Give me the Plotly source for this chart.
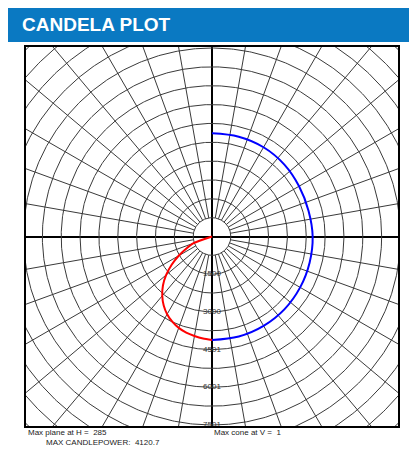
import numpy as np
import plotly.graph_objects as go

# ---- data ----
blue_angles = [0, 15, 30, 45, 60, 75, 90, 105, 120, 135, 150, 165, 180]
blue_cd = [4120, 4118, 4105, 4085, 4050, 4020, 4005, 3975, 4000, 4060, 4100, 4110, 4105]

red_angles = [0, 5, 10, 15, 20, 25, 30, 35, 40, 45, 50, 55, 60, 65, 70, 75, 80, 85, 90]
red_cd = [4120, 4075, 4020, 3960, 3870, 3740, 3570, 3350, 3080, 2760, 2380, 1960, 1530,
          1110, 780, 0, 0, 0, 0]

ring_values = [750 * i for i in range(1, 16)]
spoke_angles = [a for a in range(0, 360, 10) if a % 90 != 0]
label_values = [1500, 3000, 4501, 6001, 7501]
label_texts = ["1500", "3000", "4501", "6001", "7501"]

title_text = "CANDELA PLOT"
info_plane = "Max plane at H =\u00a0\u00a0285"
info_power = "MAX CANDLEPOWER:\u00a0\u00a04120.7"
info_cone = "Max cone at V =\u00a0\u00a01"

# ---- geometry (page body has an 8px margin, so coordinates are shifted by -8) ----
OFF = 8
W, H = 417 - OFF, 450 - OFF
L, R, T, B = 26 - OFF, 398 - OFF, 47 - OFF, 426 - OFF
CD_PER_PX = 7500 / 188.5
xr = (R - L) / 2 * CD_PER_PX
yr = (B - T) / 2 * CD_PER_PX

fig = go.Figure()

# rings
gx, gy = [], []
t = np.linspace(0, 2 * np.pi, 721)
for r in ring_values:
    gx += list(r * np.cos(t)) + [None]
    gy += list(r * np.sin(t)) + [None]
fig.add_trace(go.Scatter(x=gx, y=gy, mode="lines", line=dict(color="#3a3a3a", width=1),
                         hoverinfo="skip", showlegend=False))

# spokes
sx, sy = [], []
r0, r1 = ring_values[0], ring_values[-1] * 1.2
for a in spoke_angles:
    rad = np.deg2rad(a)
    sx += [r0 * np.cos(rad), r1 * np.cos(rad), None]
    sy += [r0 * np.sin(rad), r1 * np.sin(rad), None]
fig.add_trace(go.Scatter(x=sx, y=sy, mode="lines", line=dict(color="#3a3a3a", width=1),
                         hoverinfo="skip", showlegend=False))

# curves (angle measured from nadir)
ba = np.deg2rad(blue_angles)
bc = np.array(blue_cd, dtype=float)
fig.add_trace(go.Scatter(x=bc * np.sin(ba), y=-bc * np.cos(ba), mode="lines",
                         line=dict(color="#0000ff", width=2, shape="spline", smoothing=1),
                         showlegend=False))
ra = np.deg2rad(red_angles)
rc = np.array(red_cd, dtype=float)
fig.add_trace(go.Scatter(x=-rc * np.sin(ra), y=-rc * np.cos(ra), mode="lines",
                         line=dict(color="#ff0000", width=2, shape="spline", smoothing=0.6),
                         showlegend=False))

# ring labels
fig.add_trace(go.Scatter(x=[0] * len(label_values), y=[-v for v in label_values],
                         mode="text", text=label_texts, textposition="middle center",
                         textfont=dict(family="Liberation Sans, Arial", size=8, color="#333"),
                         cliponaxis=False, hoverinfo="skip", showlegend=False))

axis_common = dict(showgrid=False, zeroline=True, zerolinecolor="black", zerolinewidth=2,
                   showline=True, linecolor="black", linewidth=2, mirror=True,
                   showticklabels=False, ticks="", fixedrange=True)
fig.update_xaxes(range=[-xr, xr], **axis_common)
fig.update_yaxes(range=[-yr, yr], **axis_common)

pw, ph = R - L, B - T
def px(x):
    return (x - OFF - L) / pw
def py(y):
    return (B - (y - OFF)) / ph

fig.add_shape(type="rect", xref="paper", yref="paper", x0=px(7), x1=px(420),
              y0=py(42), y1=py(5), fillcolor="#0a79c2", line=dict(width=0), layer="below")

fig.add_annotation(x=px(20), y=py(24.5), xref="paper", yref="paper", text="<b>%s</b>" % title_text,
                   showarrow=False, xanchor="left", yanchor="middle",
                   font=dict(family="Liberation Sans, Arial", size=19, color="white"))
small = dict(family="Liberation Sans, Arial", size=8, color="#222")
fig.add_annotation(x=px(26), y=py(432), xref="paper", yref="paper", text=info_plane,
                   showarrow=False, xanchor="left", yanchor="middle", font=small)
fig.add_annotation(x=px(44), y=py(442), xref="paper", yref="paper", text=info_power,
                   showarrow=False, xanchor="left", yanchor="middle", font=small)
fig.add_annotation(x=px(212), y=py(432), xref="paper", yref="paper", text=info_cone,
                   showarrow=False, xanchor="left", yanchor="middle", font=small)

fig.update_layout(width=W, height=H, margin=dict(l=L, r=W - R, t=T, b=H - B, pad=0),
                  paper_bgcolor="white", plot_bgcolor="white", showlegend=False)

fig.write_html("out.html")
